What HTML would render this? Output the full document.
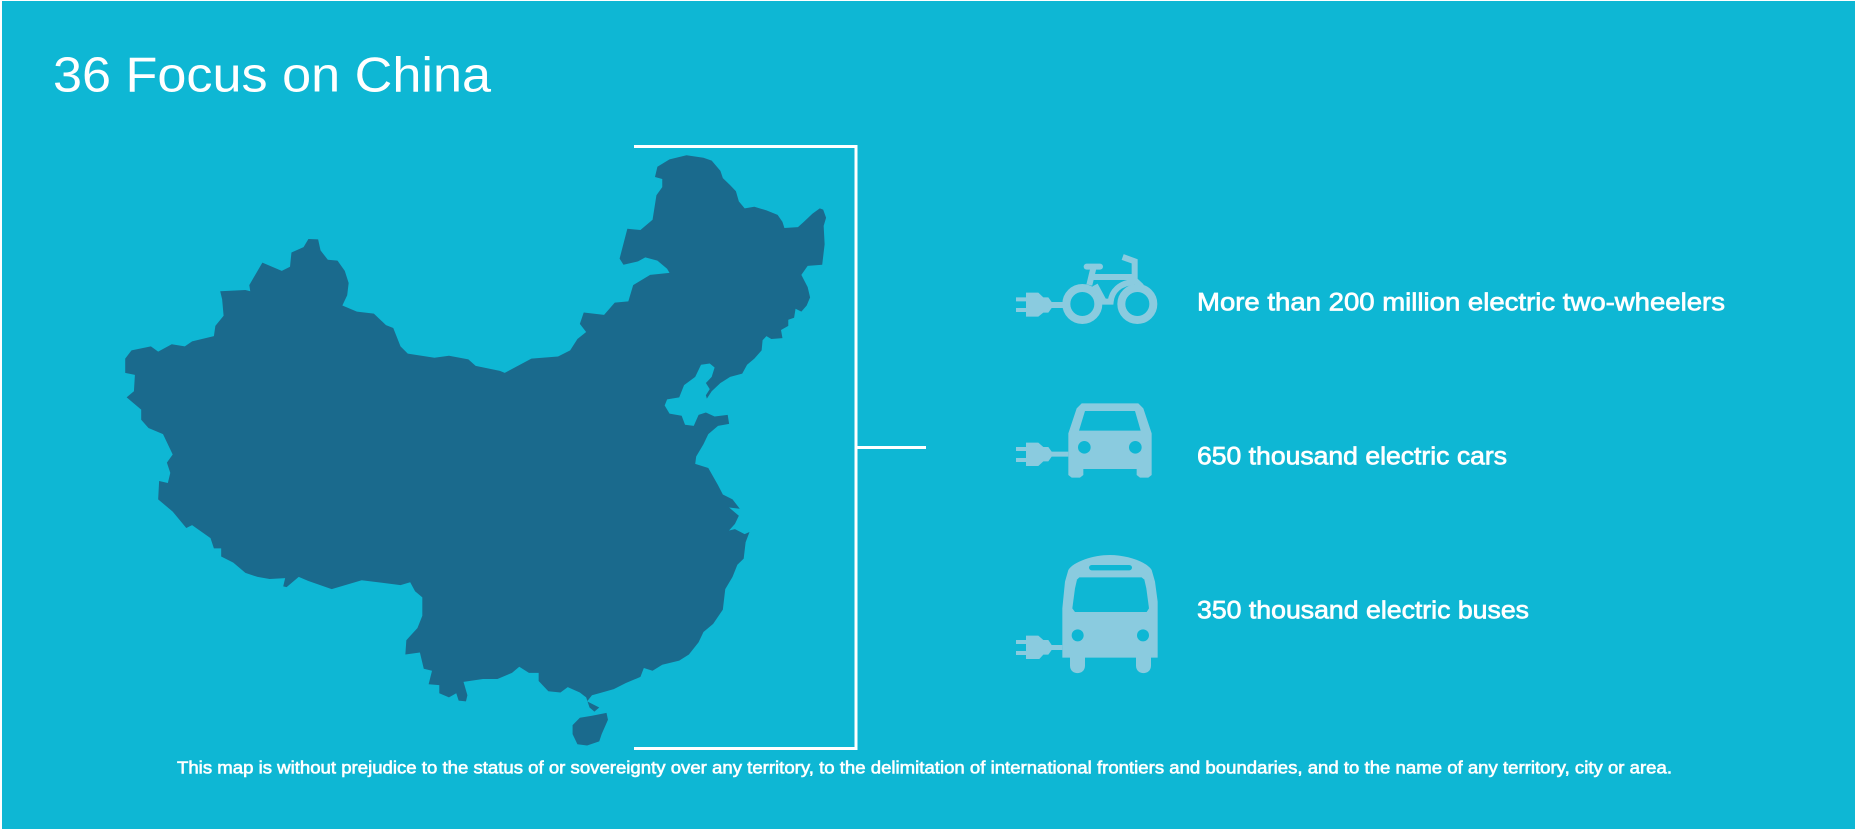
<!DOCTYPE html>
<html lang="en">
<head>
<meta charset="utf-8">
<title>36 Focus on China</title>
<style>
html,body{margin:0;padding:0;background:#fff;width:1855px;height:830px;overflow:hidden}
svg{display:block;position:absolute;left:0;top:0}
text{font-family:"Liberation Sans",sans-serif;fill:#fff}
.lbl{font-size:25px;stroke:#fff;stroke-width:.7px}
.foot{font-size:17.5px;stroke:#fff;stroke-width:.6px}
.icon{fill:#8ACBDF}
.hole{fill:#0EB7D4}
</style>
</head>
<body>
<svg width="1855" height="830" viewBox="0 0 1855 830">
  <rect x="2" y="1" width="1853" height="828" fill="#0EB7D4"/>
  <text x="53" y="91.7" font-size="49" textLength="438" lengthAdjust="spacingAndGlyphs">36 Focus on China</text>

  <g transform="translate(100,130) scale(0.4847,0.40816)" fill="#1A6A8D">
    <path d="M1210,62 L1245,68 1262,75 1280,100 1285,118 1300,135 1312,150 1318,175 1330,192 1350,188 1375,197 1398,208 1408,225 1412,240 1440,238 1452,225 1470,205 1485,192 1492,195 1498,215 1493,235 1495,280 1490,330 1460,333 1447,355 1460,385 1465,410 1458,430 1447,445 1435,438 1432,460 1420,465 1420,480 1405,490 1408,510 1385,512 1375,505 1367,515 1365,540 1350,560 1335,575 1325,597 1300,605 1280,620 1262,640 1252,658 1250,650 1258,635 1250,620 1262,605 1268,582 1258,572 1240,575 1228,605 1205,625 1195,655 1170,660 1165,675 1175,695 1200,700 1207,722 1225,725 1235,698 1250,692 1268,702 1295,698 1298,720 1275,725 1255,745 1245,770 1230,800 1228,818 1255,828 1275,870 1285,893 1305,905 1320,928 1298,925 1318,945 1310,965 1295,985 1285,985 1310,978 1330,990 1340,985 1332,1010 1328,1050 1315,1065 1305,1095 1290,1125 1285,1175 1265,1210 1245,1230 1235,1255 1215,1285 1195,1300 1160,1310 1140,1325 1122,1318 1115,1340 1085,1355 1060,1370 1030,1380 1015,1385 1005,1400 1030,1415 1020,1425 1010,1415 1003,1390 990,1378 965,1365 950,1378 925,1375 905,1350 905,1330 885,1330 865,1315 850,1330 820,1345 790,1345 750,1352 758,1385 755,1400 740,1398 735,1380 720,1390 700,1380 700,1360 678,1358 685,1325 668,1320 660,1280 630,1285 632,1250 655,1220 665,1190 665,1145 650,1130 640,1108 620,1115 540,1103 478,1125 430,1105 410,1095 385,1120 378,1118 382,1098 350,1100 325,1095 300,1085 275,1060 250,1045 250,1025 235,1025 228,1000 190,968 178,975 150,935 120,905 122,860 140,865 145,840 138,815 150,795 130,745 100,730 85,710 85,685 70,670 55,655 70,640 72,600 52,595 52,560 65,540 105,530 120,543 148,525 175,530 190,518 235,505 238,480 255,455 252,415 248,395 300,392 310,395 308,380 335,325 375,345 392,335 395,300 420,287 430,267 450,268 455,295 470,318 490,320 505,345 513,375 510,405 500,430 530,445 565,450 590,478 605,485 620,530 635,548 690,558 720,553 760,562 775,578 825,590 835,595 890,560 945,555 970,540 985,512 1003,495 990,475 998,447 1040,453 1062,423 1090,420 1100,380 1135,355 1175,350 1170,340 1150,320 1125,312 1110,322 1080,330 1072,315 1088,242 1115,245 1140,220 1148,160 1160,140 1160,120 1145,115 1150,90 1175,72Z"/>
    <path d="M1045,1428 L1048,1445 1035,1480 1030,1498 1005,1508 985,1505 975,1480 975,1458 990,1440 1015,1435Z"/>
  </g>

  <g fill="none" stroke="#fff" stroke-width="3">
    <path d="M634,146.5 H856 V748.5 H634"/>
    <path d="M856,447.5 H926"/>
  </g>

  <g transform="translate(1000,240) scale(0.33333)">
    <path class="icon" d="M48,172H78V158H115L130,172H145L155,186H190V204H155L145,218H130L115,230H78V216H48V204H78V184H48Z"/>
    <g fill="none" stroke="#8ACBDF" stroke-width="24">
      <circle cx="247" cy="192" r="48"/>
      <circle cx="412" cy="192" r="48"/>
    </g>
    <g fill="none" stroke="#8ACBDF" stroke-width="18">
      <path d="M280,85L268,135"/>
      <path d="M272,111H404"/>
      <path d="M368,51L404,64V120L425,140"/>
      <path d="M285,135L312,185H332C335,155 358,128 404,126"/>
      <path d="M260,80H300" stroke-linecap="round"/>
    </g>
  </g>

  <g transform="translate(1000,390) scale(0.33333)">
    <path class="icon" d="M48,171H78V158H115L130,171H145L155,185H205V200H155L145,214H130L115,228H78V216H48V204H78V183H48Z"/>
    <path class="icon" fill-rule="evenodd" d="M245,40H415L430,55L455,130V255L445,263H420L410,255V237H250V255L240,263H215L205,255V130L230,55ZM255,63L237,122H422L405,63Z"/>
    <circle class="hole" cx="253" cy="172" r="19"/>
    <circle class="hole" cx="406" cy="172" r="19"/>
  </g>

  <g transform="translate(1000,545) scale(0.33333)">
    <path class="icon" d="M48,285H78V272H115L130,285H145L155,300H187V315H155L145,329H130L118,342H78V330H48V318H78V297H48Z"/>
    <path class="icon" d="M205,75C220,50 280,30 330,30C380,30 440,50 455,75L465,110L473,170V338H453V362C453,392 408,392 408,362V338H255V362C255,392 210,392 210,362V338H187V190L195,110Z"/>
    <path class="hole" d="M238,97H425L433,104L439,130L447,190L440,201H225L217,190L225,130L231,104Z"/>
    <rect class="hole" x="267" y="60" width="129" height="16" rx="8"/>
    <circle class="hole" cx="233" cy="271" r="18"/>
    <circle class="hole" cx="429" cy="271" r="18"/>
  </g>

  <text class="lbl" x="1197" y="310.7" textLength="528" lengthAdjust="spacingAndGlyphs">More than 200 million electric two-wheelers</text>
  <text class="lbl" x="1197" y="464.3" textLength="310" lengthAdjust="spacingAndGlyphs">650 thousand electric cars</text>
  <text class="lbl" x="1197" y="618.3" textLength="332" lengthAdjust="spacingAndGlyphs">350 thousand electric buses</text>
  <text class="foot" x="177" y="773.7" textLength="1495" lengthAdjust="spacingAndGlyphs">This map is without prejudice to the status of or sovereignty over any territory, to the delimitation of international frontiers and boundaries, and to the name of any territory, city or area.</text>
</svg>
</body>
</html>
